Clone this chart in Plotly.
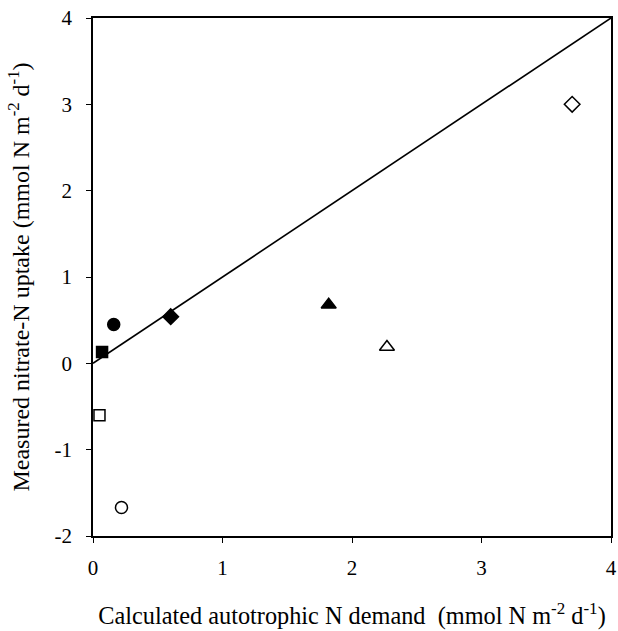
import plotly.graph_objects as go

# Data
site_x = [0.16, 0.07, 0.60, 1.82, 0.05, 0.22, 2.27, 3.70]
site_y = [0.45, 0.13, 0.54, 0.68, -0.60, -1.67, 0.19, 3.00]
site_symbols = ["circle", "square", "diamond", "triangle-up",
                "square-open", "circle-open", "triangle-up-open", "diamond-open"]
site_sizes = [12, 11, 12, 13, 11, 12, 13, 12]

line_x = [0, 4]
line_y = [0, 4]

x_ticks = [0, 1, 2, 3, 4]
x_tick_labels = ["0", "1", "2", "3", "4"]
y_ticks = [-2, -1, 0, 1, 2, 3, 4]
y_tick_labels = ["-2", "-1", "0", "1", "2", "3", "4"]

fig = go.Figure()
fig.add_trace(go.Scatter(x=line_x, y=line_y, mode="lines",
                         line=dict(color="black", width=1.6),
                         showlegend=False, hoverinfo="skip"))
for xv, yv, sym, sz in zip(site_x, site_y, site_symbols, site_sizes):
    fig.add_trace(go.Scatter(
        x=[xv], y=[yv], mode="markers",
        marker=dict(symbol=sym, size=sz, color="black",
                    line=dict(color="black", width=1.5)),
        showlegend=False))

font_family = "Liberation Serif, Times New Roman, serif"
fig.update_layout(
    width=618, height=631,
    margin=dict(l=93, r=7, t=18, b=95),
    paper_bgcolor="white", plot_bgcolor="white",
    font=dict(family=font_family, size=21, color="black"),
    xaxis=dict(range=[0, 4], tickvals=x_ticks, ticktext=x_tick_labels,
               ticks="outside", ticklen=5, tickwidth=1.2, tickcolor="black",
               showline=True, linecolor="black", linewidth=1.5, mirror=True,
               showgrid=False, zeroline=False, ticklabelstandoff=7,
               automargin=False,
               title=dict(text="Calculated autotrophic N demand  (mmol N m<sup>-2</sup> d<sup>-1</sup>)",
                          font=dict(size=24.3), standoff=28)),
    yaxis=dict(range=[-2, 4], tickvals=y_ticks, ticktext=y_tick_labels,
               ticks="outside", ticklen=5, tickwidth=1.2, tickcolor="black",
               showline=True, linecolor="black", linewidth=1.5, mirror=True,
               showgrid=False, zeroline=False, ticklabelstandoff=10,
               automargin=False,
               title=dict(text="Measured nitrate-N uptake (mmol N m<sup>-2</sup> d<sup>-1</sup>)",
                          font=dict(size=24), standoff=18)),
)

fig.write_html("out.html", config={"displayModeBar": False},
               post_script="document.body.style.margin='0';")
